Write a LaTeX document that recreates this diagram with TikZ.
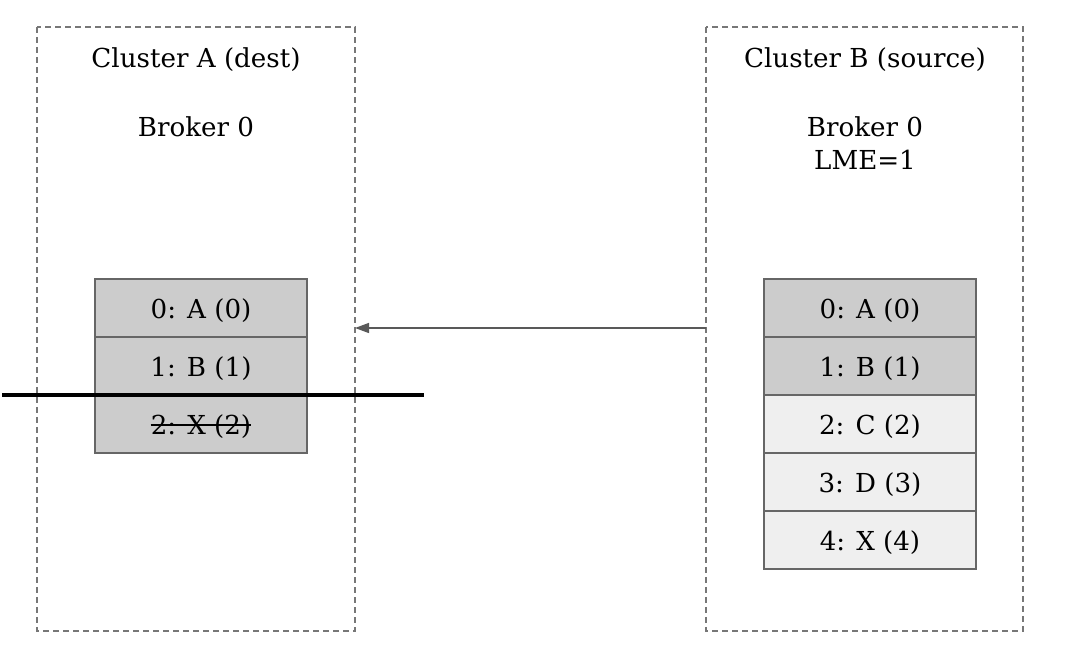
\documentclass[tikz,border=0pt]{standalone}
\usepackage{fontspec}
\setmainfont{DejaVu Serif}
\usetikzlibrary{arrows.meta}
\definecolor{boxline}{HTML}{777777}
\definecolor{cellline}{HTML}{666666}
\definecolor{dark}{HTML}{CCCCCC}
\definecolor{light}{HTML}{EFEFEF}
\definecolor{arrowc}{HTML}{595959}
\tikzset{
  cluster/.style={draw=boxline, line width=0.9pt, dash pattern=on 4.5pt off 3pt},
  cell/.style={draw=cellline, line width=0.8pt, minimum width=159pt, minimum height=43.5pt, inner sep=0pt, text height=17.8pt, text depth=2.6pt, font=\fontsize{19.6}{24.75}\selectfont},
  darkcell/.style={cell, fill=dark},
  lightcell/.style={cell, fill=light},
  lbl/.style={font=\fontsize{19.6}{24.75}\selectfont, inner sep=0pt, align=center},
}
\begin{document}
\begin{tikzpicture}[x=0.75pt,y=-0.75pt]
\useasboundingbox (0,0) rectangle (1083,655);
% clusters
\draw[cluster] (37,27) rectangle (355,631);
\draw[cluster] (706,27) rectangle (1023,631);
\coordinate (Aedge) at (355,328);
\coordinate (Bedge) at (706,328);
\node[lbl] (tA) at (196,60) {Cluster A (dest)};
\node[lbl] (bA) at (196,127) {Broker 0};
\node[lbl] (tB) at (865,60) {Cluster B (source)};
\node[lbl] (bB) at (865,143.5) {Broker 0\\LME=1};
% left log
\node[darkcell] (a0) at (201,308) {0: A (0)};
\node[darkcell] (a1) at (201,366) {1: B (1)};
\node[darkcell] (a2) at (201,424) {};
\node[lbl, text height=17.8pt, text depth=2.6pt] (a2t) at (a2.center) {2: X (2)};
\draw[line width=1.2pt] ([yshift=7pt]a2t.base west) -- ([yshift=7pt]a2t.base east);
% right log
\node[darkcell] (b0) at (870,308) {0: A (0)};
\node[darkcell] (b1) at (870,366) {1: B (1)};
\node[lightcell] (b2) at (870,424) {2: C (2)};
\node[lightcell] (b3) at (870,482) {3: D (3)};
\node[lightcell] (b4) at (870,540) {4: X (4)};
% arrow
\draw[arrowc, line width=1pt, -{Triangle[length=10.5pt,width=7.5pt]}] (Bedge) -- (Aedge);
% cut line
\coordinate (cutL) at (2,395);
\coordinate (cutR) at (424,395);
\draw[line width=3pt] (cutL) -- (cutR);
\end{tikzpicture}
\end{document}
